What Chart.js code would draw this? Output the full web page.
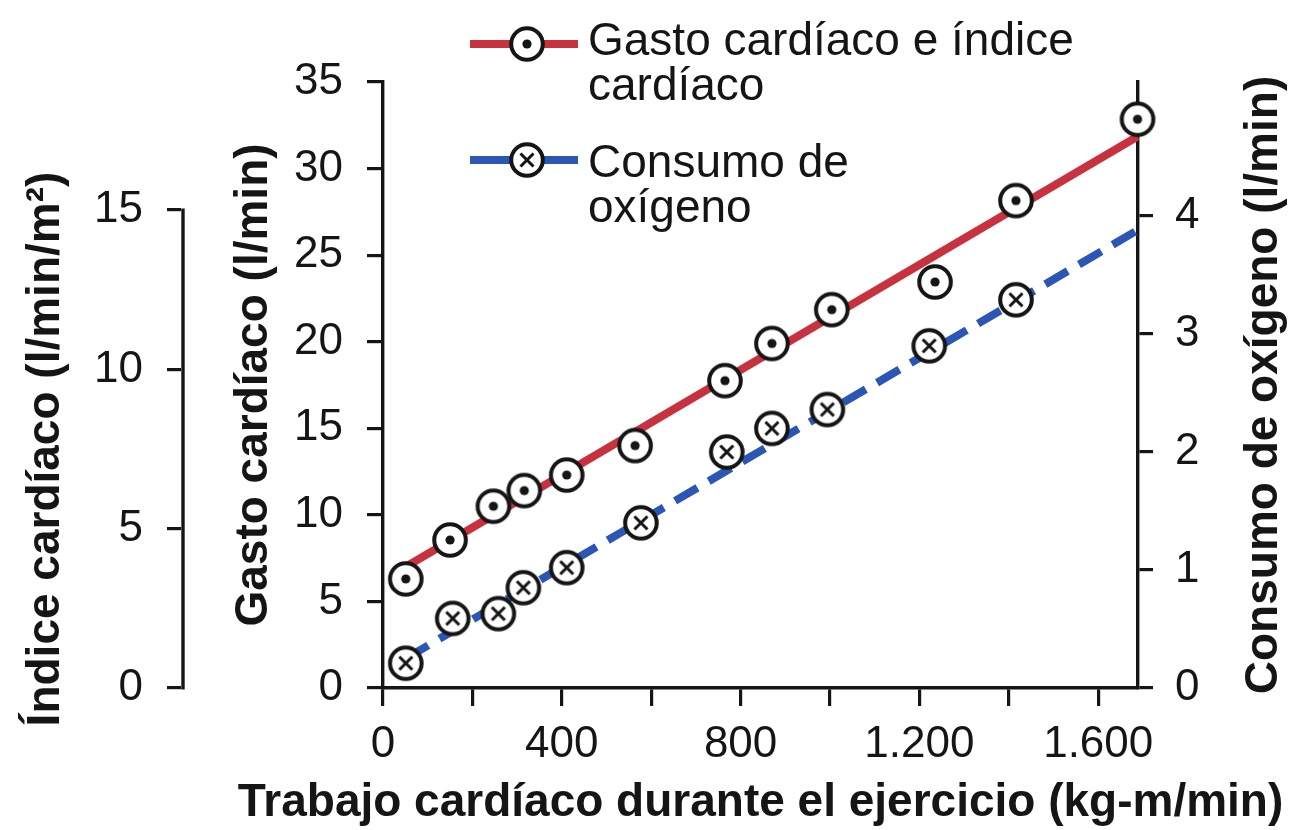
<!DOCTYPE html>
<html>
<head>
<meta charset="utf-8">
<script src="https://cdn.jsdelivr.net/npm/chart.js@4.4.1/dist/chart.umd.min.js"></script>
<style>
  html, body { margin: 0; padding: 0; background: #fff; }
</style>
</head>
<body>
<canvas id="chart" width="1296" height="830"></canvas>
<script>
// cardiac work (kg-m/min) vs cardiac output (l/min)
const workOutput = [51, 150, 247, 316, 411, 564, 765, 870, 1004, 1235, 1416, 1688];
const cardiacOutput = [6.3, 8.55, 10.5, 11.4, 12.3, 14.0, 17.75, 19.9, 21.85, 23.45, 28.15, 32.85];

// cardiac work vs oxygen consumption (l/min)
const workOxygen = [51, 156, 258, 314, 411, 577, 769, 870, 994, 1222, 1416];
const oxygenUse = [0.21, 0.59, 0.63, 0.85, 1.02, 1.40, 2.0, 2.2, 2.36, 2.9, 3.29];

// fitted lines (start, end)
const outputTrendX = [51, 1688];
const outputTrendY = [7.0, 31.85];
const oxygenTrendX = [51, 1688];
const oxygenTrendY = [0.25, 3.88];

const legendOutput = ['Gasto cardíaco e índice', 'cardíaco'];
const legendOxygen = ['Consumo de', 'oxígeno'];
const titleWork = 'Trabajo cardíaco durante el ejercicio (kg-m/min)';
const titleOutput = 'Gasto cardíaco (l/min)';
const titleIndex = 'Índice cardíaco (l/min/m²)';
const titleOxygen = 'Consumo de oxígeno (l/min)';

const RED = '#c8323f';
const BLUE = '#2b56b6';
const INK = '#151515';
const FONT = "'Liberation Sans', Arial, Helvetica, sans-serif";

function makeMarker(kind) {
  const c = document.createElement('canvas');
  c.width = 40; c.height = 40;
  const g = c.getContext('2d');
  g.beginPath();
  g.arc(20, 20, 15.8, 0, Math.PI * 2);
  g.fillStyle = '#fff';
  g.fill();
  g.lineWidth = 4;
  g.strokeStyle = INK;
  g.stroke();
  if (kind === 'dot') {
    g.beginPath();
    g.arc(20, 20, 4.6, 0, Math.PI * 2);
    g.fillStyle = INK;
    g.fill();
  } else {
    g.beginPath();
    g.moveTo(13.5, 13.5); g.lineTo(26.5, 26.5);
    g.moveTo(26.5, 13.5); g.lineTo(13.5, 26.5);
    g.lineWidth = 3;
    g.stroke();
  }
  return c;
}
const dotMarker = makeMarker('dot');
const crossMarker = makeMarker('cross');

function withDots(v) {
  return String(v).replace(/\B(?=(\d{3})+(?!\d))/g, '.');
}

const tickFont = { family: FONT, size: 44 };
const titleFont = { family: FONT, size: 46, weight: 'bold', lineHeight: 1.15 };

const extras = {
  id: 'extras',
  afterDraw(chart) {
    const ctx = chart.ctx;
    const area = chart.chartArea;
    const yi = chart.scales.yIndex;
    ctx.save();

    // index axis spans only 0..15
    ctx.strokeStyle = INK;
    ctx.lineWidth = 3.4;
    ctx.beginPath();
    ctx.moveTo(yi.right, yi.getPixelForValue(0) + 1.6);
    ctx.lineTo(yi.right, yi.getPixelForValue(15) - 1.6);
    ctx.stroke();

    ctx.fillStyle = INK;
    ctx.font = 'bold 46px ' + FONT;
    ctx.textAlign = 'center';
    ctx.textBaseline = 'middle';
    const midIndex = (yi.getPixelForValue(0) + yi.getPixelForValue(15)) / 2;
    ctx.save();
    ctx.translate(46, midIndex);
    ctx.rotate(-Math.PI / 2);
    ctx.fillText(titleIndex, 0, 0);
    ctx.restore();

    ctx.save();
    ctx.translate(1264, (area.top + area.bottom) / 2);
    ctx.rotate(-Math.PI / 2);
    ctx.fillText(titleOxygen, 0, 0);
    ctx.restore();

    ctx.fillText(titleWork, (area.left + area.right) / 2, 803);

    // legend
    const entries = [
      { color: RED, marker: dotMarker, lines: legendOutput, y: 44, base: 55 },
      { color: BLUE, marker: crossMarker, lines: legendOxygen, y: 160, base: 177 }
    ];
    ctx.font = '46px ' + FONT;
    ctx.textAlign = 'left';
    ctx.textBaseline = 'alphabetic';
    entries.forEach(e => {
      ctx.strokeStyle = e.color;
      ctx.lineWidth = 8;
      ctx.beginPath();
      ctx.moveTo(470, e.y);
      ctx.lineTo(578, e.y);
      ctx.stroke();
      ctx.drawImage(e.marker, 527 - 20, e.y - 20);
      e.lines.forEach((t, i) => ctx.fillText(t, 588, e.base + i * 45));
    });
    ctx.restore();
  }
};

new Chart(document.getElementById('chart'), {
  type: 'scatter',
  data: {
    datasets: [
      {
        label: 'Gasto cardíaco',
        data: workOutput.map((x, i) => ({ x, y: cardiacOutput[i] })),
        yAxisID: 'yOutput',
        pointStyle: dotMarker,
        pointRadius: 17,
        showLine: false,
        clip: false
      },
      {
        label: 'Consumo de oxígeno',
        data: workOxygen.map((x, i) => ({ x, y: oxygenUse[i] })),
        yAxisID: 'yOxygen',
        pointStyle: crossMarker,
        pointRadius: 17,
        showLine: false,
        clip: false
      },
      {
        label: 'Gasto tendencia',
        data: outputTrendX.map((x, i) => ({ x, y: outputTrendY[i] })),
        yAxisID: 'yOutput',
        showLine: true,
        pointRadius: 0,
        borderColor: RED,
        borderWidth: 8,
        clip: false
      },
      {
        label: 'Oxígeno tendencia',
        data: oxygenTrendX.map((x, i) => ({ x, y: oxygenTrendY[i] })),
        yAxisID: 'yOxygen',
        showLine: true,
        pointRadius: 0,
        borderColor: BLUE,
        borderWidth: 8,
        borderDash: [26, 13],
        clip: false
      }
    ]
  },
  options: {
    responsive: false,
    animation: false,
    events: [],
    layout: { padding: { top: 82, left: 0, right: 0, bottom: 0 }, autoPadding: false },
    plugins: { legend: { display: false }, tooltip: { enabled: false } },
    scales: {
      x: {
        type: 'linear',
        position: 'bottom',
        min: 0,
        max: 1689,
        afterFit: s => { s.height = 142; },
        border: { color: INK, width: 3.4 },
        grid: { drawOnChartArea: false, color: INK, lineWidth: 3.2, tickLength: 18 },
        ticks: {
          stepSize: 200,
          includeBounds: false,
          autoSkip: false,
          maxRotation: 0,
          padding: 12,
          color: INK,
          font: tickFont,
          callback: v => (v % 400 === 0 ? withDots(v) : '')
        }
      },
      yOutput: {
        type: 'linear',
        position: 'left',
        weight: 0,
        min: 0,
        max: 35,
        afterFit: s => { s.width = 200; },
        border: { color: INK, width: 3.4 },
        grid: { drawOnChartArea: false, color: INK, lineWidth: 3.2, tickLength: 16 },
        ticks: { stepSize: 5, padding: 24, color: INK, font: tickFont },
        title: { display: true, text: titleOutput, color: INK, font: titleFont, padding: { top: 45, bottom: 0 } }
      },
      yIndex: {
        type: 'linear',
        position: 'left',
        weight: 1,
        min: 0,
        max: 19.02,
        afterFit: s => { s.width = 183; },
        border: { color: 'rgba(0,0,0,0)', width: 3.4 },
        grid: { drawOnChartArea: false, color: INK, lineWidth: 3.2, tickLength: 16 },
        ticks: { stepSize: 5, includeBounds: false, padding: 24, color: INK, font: tickFont }
      },
      yOxygen: {
        type: 'linear',
        position: 'right',
        min: 0,
        max: 5.136,
        afterFit: s => { s.width = 158; },
        afterBuildTicks: s => { s.ticks = s.ticks.filter(t => t.value <= 4); },
        border: { color: INK, width: 3.4 },
        grid: { drawOnChartArea: false, color: INK, lineWidth: 3.2, tickLength: 15 },
        ticks: { stepSize: 1, padding: 22, color: INK, font: tickFont }
      }
    }
  },
  plugins: [extras]
});
</script>
</body>
</html>
